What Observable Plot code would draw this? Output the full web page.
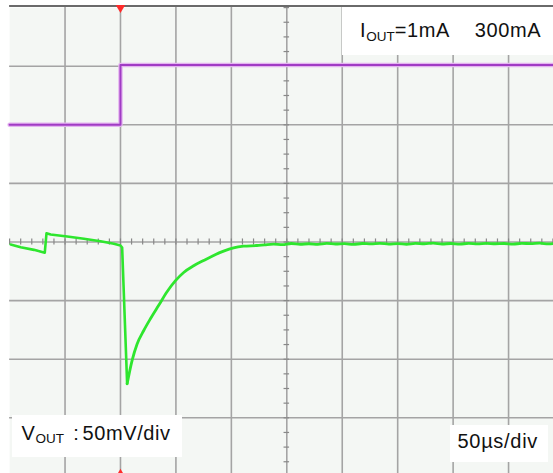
<!DOCTYPE html>
<html><head><meta charset="utf-8">
<script src="https://cdn.jsdelivr.net/npm/d3@7"></script>
<script src="https://cdn.jsdelivr.net/npm/@observablehq/plot@0.6"></script>
<style>
html,body{margin:0;padding:0;background:#fff;}
#wrap{position:relative;width:553px;height:473px;overflow:hidden;font-family:"Liberation Sans",Arial,sans-serif;}
#wrap svg{position:absolute;left:0;top:0;}
.box{position:absolute;background:#fff;}
.lbl{position:absolute;font-size:20px;line-height:20px;letter-spacing:0.6px;color:#111;white-space:pre;}
.lbl sub{font-size:13.5px;vertical-align:baseline;position:relative;top:3.4px;letter-spacing:0;}
</style></head><body><div id="wrap"></div>
<script>
// Time axis: µs (50 µs/div), trigger at 0. Voltage: mV relative to centre (50 mV/div).
const xGrid = [-50, 0, 50, 100, 150, 200, 250, 300, 350];
const yGrid = [-150, -100, -50, 0, 50, 100, 150];
const minorX = d3.range(-100, 401, 10);      // ticks on centre horizontal line (1/5 div)
const minorY = d3.range(-200, 201, 12.5);    // ticks on centre vertical line (1/4 div)

// V_OUT trace (green): before and through the drop
const tFall = [-99, -90, -78, -68.3, -66.7, -63, -48, -33, -18, -6, 0, 1.5, 6];
const vFall = [-2.1, -4.4, -6.7, -9.2, 7.5, 6.4, 4.7, 2.7, 0.7, -1.5, -3.0, -4.7, -121];
// V_OUT trace (green): recovery and settled part
const tRise = [6, 10.5, 15, 21, 27, 34.5, 42, 49.6, 57, 66, 75, 84, 93, 102, 111, 123,
  130, 138, 146, 154, 162, 170, 178, 186, 194, 202, 210, 218, 226, 234, 242, 250, 258, 266, 274, 282, 290, 298, 306, 314, 322, 330, 338, 346, 354, 362, 370, 378, 386, 394, 400];
const vRise = [-121, -101, -87, -75.5, -65.5, -54, -42.5, -33, -26, -20.3, -15.8, -11.5, -7.8, -5.0, -3.6, -3.0,
  -2.4, -1.8, -2.2, -1.3, -1.9, -1.5, -2.0, -1.2, -1.7, -1.4, -2.1, -1.3, -1.6, -1.1, -1.8, -1.4, -1.9, -1.2, -1.5, -1.0, -1.7, -1.3, -1.8, -1.2, -1.6, -1.1, -1.5, -1.3, -1.8, -1.2, -1.4, -1.0, -1.6, -1.3, -1.4];

// I_OUT trace (purple), level in divisions on screen: 1mA -> 300mA step at trigger
const tPurple = [-100, 0, 0, 400];
const divPurple = [2, 2, 3.02, 3.02];
const trigTime = [0];

const mvPerDiv = 50;
const fall = tFall.map((t, i) => ({t, v: vFall[i]}));
const rise = tRise.map((t, i) => ({t, v: vRise[i]}));
const purple = tPurple.map((t, i) => ({t, v: divPurple[i] * mvPerDiv}));

const gridStroke = "#a4a4a4";
const greenStroke = "#2ee62e";
const plot = Plot.plot({
  width: 553,
  height: 473,
  marginLeft: 9.1,
  marginRight: -10.5,
  marginTop: 7.1,
  marginBottom: -2.9,
  x: {domain: [-100, 400], axis: null},
  y: {domain: [-200, 200], axis: null},
  style: {background: "transparent", overflow: "hidden"},
  marks: [
    Plot.frame({fill: "#f4f7f4", stroke: null}),
    Plot.ruleX(xGrid, {stroke: gridStroke, strokeWidth: 1.6}),
    Plot.ruleY(yGrid, {stroke: gridStroke, strokeWidth: 1.6}),
    Plot.ruleY([200], {stroke: "#6a6a6a", strokeWidth: 2, dy: -1.5}),
    Plot.ruleX(minorX, {x: d => d, y1: -2.6, y2: 2.6, stroke: "#888", strokeWidth: 1.2}),
    Plot.ruleY(minorY, {y: d => d, x1: 147.5, x2: 152.5, stroke: "#888", strokeWidth: 1.2}),
    Plot.line(purple, {x: "t", y: "v", stroke: "#e4b4f0", strokeWidth: 4.5}),
    Plot.line(purple, {x: "t", y: "v", stroke: "#a03cc4", strokeWidth: 2}),
    Plot.line(fall, {x: "t", y: "v", stroke: greenStroke, strokeWidth: 2.6, strokeLinejoin: "round"}),
    Plot.line(rise, {x: "t", y: "v", stroke: greenStroke, strokeWidth: 2.8, curve: "monotone-x"}),
    Plot.dot(trigTime, {x: d => d, frameAnchor: "top", symbol: "triangle", r: 3.5, fill: "#ff2a2a", stroke: null, rotate: 180}),
    Plot.dot(trigTime, {x: d => d, frameAnchor: "bottom", symbol: "triangle", r: 3, fill: "#ff2a2a", stroke: null, dy: -3})
  ]
});
const wrap = document.getElementById("wrap");
wrap.appendChild(plot);

function add(cls, css, html) {
  const el = document.createElement("div");
  el.className = cls;
  el.style.cssText = css;
  if (html) el.innerHTML = html;
  wrap.appendChild(el);
}
add("box", "left:342px;top:6.5px;width:211px;height:48.5px;");
add("lbl", "left:360px;top:20.4px;", "I<sub>OUT</sub>=1mA");
add("lbl", "left:474.8px;top:20.4px;", "300mA");
add("box", "left:11.7px;top:415px;width:170px;height:41.7px;");
add("lbl", "left:21.5px;top:423.1px;", "V<sub>OUT</sub>");
add("lbl", "left:73.3px;top:423.1px;", ":");
add("lbl", "left:82.5px;top:423.1px;", "50mV/div");
add("box", "left:450px;top:425px;width:98.3px;height:36.7px;");
add("lbl", "left:457.5px;top:431.4px;letter-spacing:0.7px;", "50µs/div");
</script></body></html>
